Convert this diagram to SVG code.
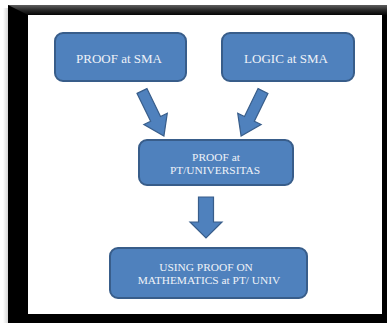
<svg xmlns="http://www.w3.org/2000/svg" width="387" height="323" viewBox="0 0 387 323">
  <defs>
    <linearGradient id="topband" x1="0" y1="0" x2="0" y2="1">
      <stop offset="0" stop-color="#5e5e5e"/>
      <stop offset="0.5" stop-color="#2a2a2a"/>
      <stop offset="1" stop-color="#050505"/>
    </linearGradient>
    <linearGradient id="shadow" x1="0" y1="0" x2="1" y2="0">
      <stop offset="0" stop-color="#ffffff"/>
      <stop offset="1" stop-color="#d6d6d6"/>
    </linearGradient>
    <path id="diag" d="M-5.5,0 L5.5,0 L5.5,31 L13,31 L0,50 L-13,31 L-5.5,31 Z"/>
  </defs>
  <style>
    .box { fill: #4f81bd; stroke: #385d8a; stroke-width: 2; }
    .arrow { fill: #4f81bd; stroke: #385d8a; stroke-width: 1.2; stroke-linejoin: miter; }
    .lbl { fill: #eef2f8; font-family: "Liberation Serif", "Times New Roman", serif; text-anchor: middle; }
    .big { font-size: 13px; }
    .sm { font-size: 11.4px; }
  </style>
  <rect x="0" y="0" width="387" height="323" fill="#ffffff"/>
  <g id="frame">
    <rect x="3" y="8" width="5" height="315" fill="url(#shadow)"/>
    <rect x="8" y="5" width="379" height="318" fill="#000000"/>
    <polygon points="8,5 387,5 387,15 382,15 28,15" fill="url(#topband)"/>
    <rect x="28" y="15" width="354" height="299" fill="#ffffff"/>
  </g>
  <g id="connectors">
    <use href="#diag" class="arrow" transform="translate(142,91) rotate(-26)"/>
    <use href="#diag" class="arrow" transform="translate(263,91) rotate(26)"/>
    <path class="arrow" d="M198.5,197 H213.5 V222 H222 L206,238 L190,222 H198.5 Z"/>
  </g>
  <g id="node-proof-sma">
    <rect class="box" x="55" y="33" width="131" height="48" rx="8"/>
    <text class="lbl big" x="119" y="62.5">PROOF at SMA</text>
  </g>
  <g id="node-logic-sma">
    <rect class="box" x="222" y="33" width="132" height="48" rx="8"/>
    <text class="lbl big" x="286" y="62.5">LOGIC at SMA</text>
  </g>
  <g id="node-proof-pt">
    <rect class="box" x="139" y="140" width="154" height="45" rx="8"/>
    <text class="lbl sm" x="216" y="161">PROOF at</text>
    <text class="lbl sm" x="215" y="174">PT/UNIVERSITAS</text>
  </g>
  <g id="node-using-proof">
    <rect class="box" x="110" y="248" width="197" height="50" rx="8"/>
    <text class="lbl sm" x="206" y="270.5">USING PROOF ON</text>
    <text class="lbl sm" x="209" y="283.5">MATHEMATICS at PT/ UNIV</text>
  </g>
</svg>
